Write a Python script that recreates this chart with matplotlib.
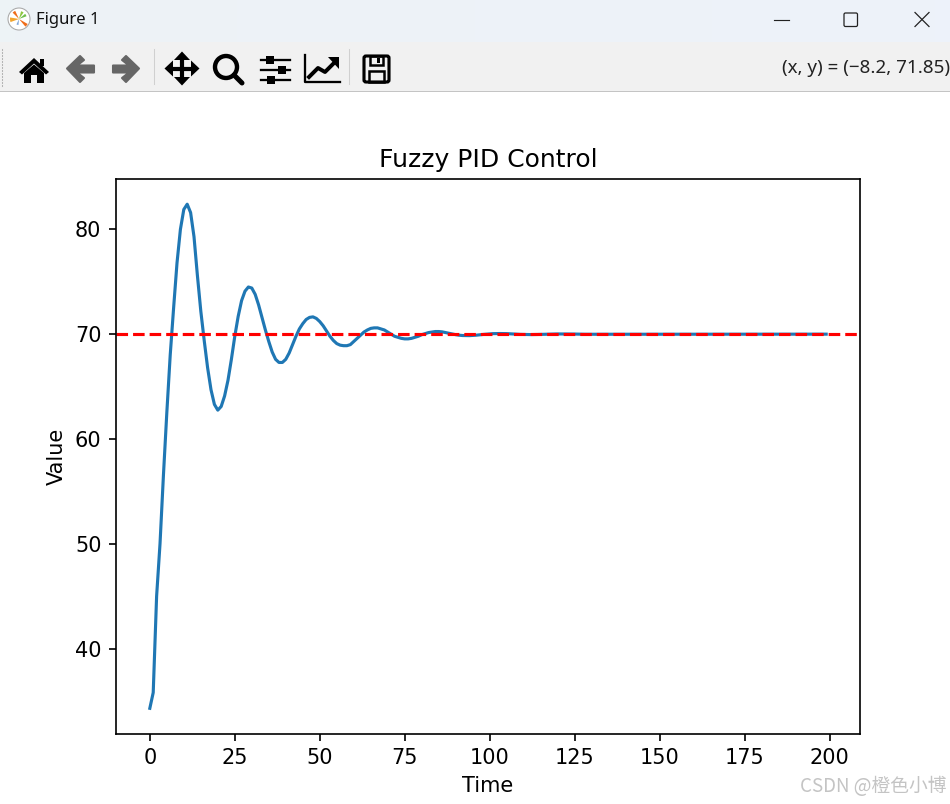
import numpy as np
import matplotlib
matplotlib.use('Agg')
import matplotlib.pyplot as plt
from matplotlib.patches import Polygon, Rectangle, Circle, Wedge, FancyBboxPatch

# --- data ---
response = [
    34.3, 35.8, 45.0, 50.0, 56.5, 62.5, 68.0, 72.5, 76.8, 80.0,
    81.9, 82.4, 81.6, 79.3, 75.6, 72.2, 69.4, 66.8, 64.7, 63.3,
    62.75, 63.1, 64.1, 65.6, 67.6, 69.8, 71.7, 73.2, 74.1, 74.5,
    74.4, 73.8, 72.8, 71.6, 70.4, 69.3, 68.3, 67.6, 67.3, 67.3,
    67.6, 68.2, 69.0, 69.8, 70.5, 71.0, 71.4, 71.6, 71.65, 71.5,
    71.2, 70.8, 70.3, 69.8, 69.4, 69.1, 68.95, 68.9, 68.9, 69.0,
    69.3, 69.6, 69.9, 70.2, 70.4, 70.55, 70.6, 70.6, 70.5, 70.4,
    70.2, 70.0, 69.8, 69.7, 69.6, 69.55, 69.55, 69.6, 69.7, 69.8,
    69.95, 70.05, 70.15, 70.2, 70.25, 70.25, 70.22, 70.15, 70.08, 70.0,
    69.95, 69.9, 69.87, 69.86, 69.86, 69.88, 69.9, 69.94, 69.97, 70.0,
    70.03, 70.05, 70.06, 70.06, 70.06, 70.05, 70.03, 70.01, 70.0, 69.98,
    69.97, 69.96, 69.96, 69.96, 69.97, 69.98, 69.99, 70.0, 70.01, 70.02,
    70.02, 70.02, 70.02, 70.02, 70.01, 70.01, 70.0, 70.0, 69.99, 69.99,
    69.99, 69.99, 69.99, 69.99, 70.0, 70.0, 70.0, 70.0, 70.0, 70.0,
    70.0, 70.0, 70.0, 70.0, 70.0, 70.0, 70.0, 70.0, 70.0, 70.0,
    70.0, 70.0, 70.0, 70.0, 70.0, 70.0, 70.0, 70.0, 70.0, 70.0,
    70.0, 70.0, 70.0, 70.0, 70.0, 70.0, 70.0, 70.0, 70.0, 70.0,
    70.0, 70.0, 70.0, 70.0, 70.0, 70.0, 70.0, 70.0, 70.0, 70.0,
    70.0, 70.0, 70.0, 70.0, 70.0, 70.0, 70.0, 70.0, 70.0, 70.0,
    70.0, 70.0, 70.0, 70.0, 70.0, 70.0, 70.0, 70.0, 70.0, 70.0,
]
setpoint = 70
window_title = "Figure 1"
cursor_text = "(x, y) = (\u22128.2, 71.85)"
watermark = "CSDN @橙色小博"

W, H = 950, 804
fig = plt.figure(figsize=(W / 150, H / 150), dpi=150)

# --- the actual plot ---
ax = fig.add_axes([116 / W, 1 - 733.5 / H, 744 / W, 554.5 / H])
ax.plot(range(len(response)), response)
ax.axhline(setpoint, color='r', linestyle='--')
ax.set_title("Fuzzy PID Control")
ax.set_xlabel("Time")
ax.set_ylabel("Value")

# --- window chrome, drawn in pixel coords ---
ui = fig.add_axes([0, 0, 1, 1], zorder=5)
ui.axis('off')
ui.patch.set_alpha(0)

# title bar, slight left to right tint
bar = np.linspace(0, 1, 64).reshape(1, -1)
ui.imshow(bar, extent=(0, W, 42, 0), aspect='auto', zorder=0,
          cmap=matplotlib.colors.LinearSegmentedColormap.from_list('tb', ['#edf3f6', '#edf2fa']))
ui.set_xlim(0, W)
ui.set_ylim(H, 0)
ui.add_patch(Rectangle((0, 42), W, 49, fc='#f1f1f1', ec='none'))
ui.add_patch(Rectangle((0, 90.5), W, 1.5, fc='#c4c4c4', ec='none'))

# app icon
ui.add_patch(Circle((19, 19), 11, fc='white', ec='#a8a8a8', lw=0.5))
for a1, a2, c, r in [(-50, -30, '#ef6c1a', 10), (170, 200, '#f2a52e', 9), (115, 135, '#ef6c1a', 9),
                     (55, 75, '#8cc63f', 8), (20, 40, '#6fbf4a', 8), (245, 265, '#7fa6d9', 6)]:
    ui.add_patch(Wedge((19, 19), r, -a2, -a1, fc=c, ec='none'))

ui.text(36, 20, window_title, fontsize=8, family='Noto Sans', va='center', color='#111111')

# min / max / close
ui.plot([774, 789], [19.5, 19.5], color='#222222', lw=0.55)
ui.add_patch(FancyBboxPatch((844, 13), 13.5, 13.5, boxstyle='round,pad=0,rounding_size=1.5',
                            fc='none', ec='#222222', lw=0.6))
ui.plot([915, 929], [12.5, 26.5], color='#222222', lw=0.6)
ui.plot([915, 929], [26.5, 12.5], color='#222222', lw=0.6)

# toolbar grip + separators
for y in range(49, 87, 3):
    ui.plot([2, 2], [y, y + 1], color='#b5b5b5', lw=0.5)
for x in (153.5, 348.5):
    ui.plot([x, x], [49, 84], color='#d0d0d0', lw=0.5)

black = '#000000'
grey = '#666666'

# home
ui.add_patch(Polygon([(19, 72), (34, 58), (49, 72), (46, 74.5), (34, 63.5), (22, 74.5)], fc=black))
ui.add_patch(Rectangle((40, 59), 4, 7, fc=black))
ui.add_patch(Polygon([(24, 73), (34, 64.5), (44, 73), (44, 83), (37, 83), (37, 75),
                      (31, 75), (31, 83), (24, 83)], fc=black))

# back / forward
ui.add_patch(Polygon([(67, 68.5), (80, 56), (84, 60), (77, 65.5), (94, 65.5), (94, 72.5),
                      (77, 72.5), (84, 78), (80, 82)], fc=grey, joinstyle='round', ec=grey, lw=1))
ui.add_patch(Polygon([(139, 68.5), (126, 56), (122, 60), (129, 65.5), (113, 65.5), (113, 72.5),
                      (129, 72.5), (122, 78), (126, 82)], fc=grey, joinstyle='round', ec=grey, lw=1))

# pan
ui.plot([170, 194], [68.5, 68.5], color=black, lw=2)
ui.plot([182, 182], [57, 80], color=black, lw=2)
ui.add_patch(Polygon([(182, 51.5), (190, 60), (174, 60)], fc=black))
ui.add_patch(Polygon([(182, 85.5), (190, 77), (174, 77)], fc=black))
ui.add_patch(Polygon([(164.5, 68.5), (173, 60.5), (173, 76.5)], fc=black))
ui.add_patch(Polygon([(199.5, 68.5), (191, 60.5), (191, 76.5)], fc=black))

# zoom
ui.add_patch(Circle((226, 67), 11, fc='none', ec=black, lw=2.1))
ui.plot([234, 242], [75, 83], color=black, lw=2.4, solid_capstyle='round')

# sliders
for y, kx in ((60, 270), (70, 282), (80, 271)):
    ui.plot([261, 290], [y, y], color=black, lw=1.1)
    ui.add_patch(Rectangle((kx - 4, y - 4), 8, 8, fc=black))

# chart
ui.plot([305, 305, 340], [55, 82, 82], color=black, lw=1.1)
ui.plot([309, 318, 325, 336], [77, 68, 72, 61], color=black, lw=1.9)
ui.add_patch(Polygon([(339, 57), (339, 69), (328, 57)], fc=black))

# save
ui.add_patch(FancyBboxPatch((364, 56), 25, 26, boxstyle='round,pad=0,rounding_size=2',
                            fc='none', ec=black, lw=1.5))
ui.add_patch(Rectangle((370, 56), 13, 9, fc='none', ec=black, lw=1.2))
ui.add_patch(Rectangle((377, 58), 3, 5, fc=black))
ui.add_patch(Rectangle((369, 71), 15, 11, fc='none', ec=black, lw=1.2))

# cursor readout, runs off the right edge like the window does
ui.text(782, 68, cursor_text, fontsize=9, family='Noto Sans', va='center', color='#222222')

ui.text(946, 787, watermark, fontsize=9, ha='right', va='center', color='#c4c4c4',
        family=['Noto Sans CJK SC', 'DejaVu Sans'])

fig.savefig('out.png', dpi=150)
